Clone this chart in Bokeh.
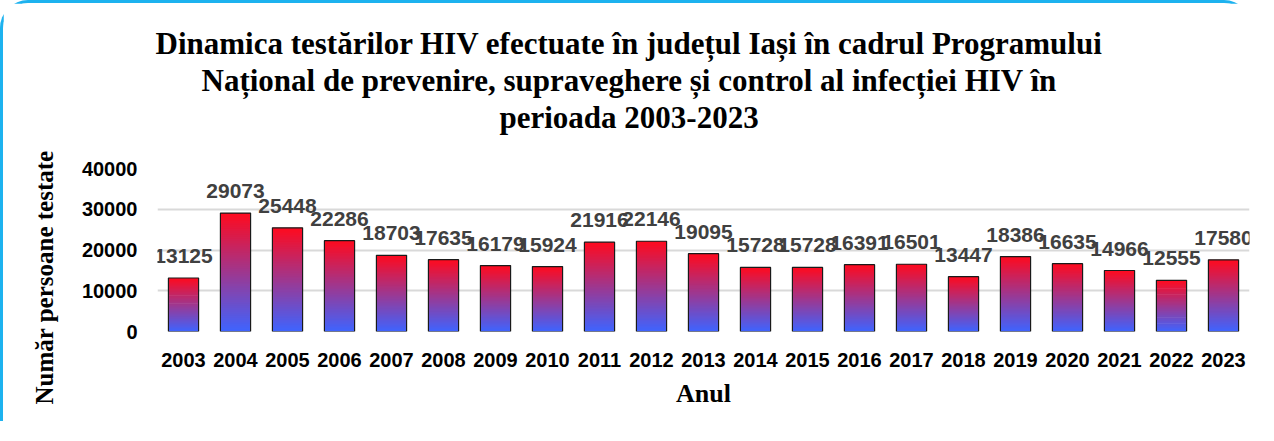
from bokeh.plotting import figure
from bokeh.models import ColumnDataSource, FactorRange, Range1d, FixedTicker, Title
from bokeh.core.properties import value
from bokeh.embed import file_html
from bokeh.resources import INLINE

years = ["2003", "2004", "2005", "2006", "2007", "2008", "2009", "2010", "2011", "2012", "2013",
         "2014", "2015", "2016", "2017", "2018", "2019", "2020", "2021", "2022", "2023"]
tests = [13125, 29073, 25448, 22286, 18703, 17635, 16179, 15924, 21916, 22146, 19095,
         15728, 15728, 16391, 16501, 13447, 18386, 16635, 14966, 12555, 17580]
y_ticks = [0, 10000, 20000, 30000, 40000]
title_lines = ["Dinamica testărilor HIV efectuate în județul Iași în cadrul Programului",
               "Național de prevenire, supraveghere și control al infecției HIV în",
               "perioada 2003-2023"]
x_title = "Anul"
y_title = "Număr persoane testate"

p = figure(x_range=FactorRange(factors=years, range_padding=0), y_range=Range1d(0, 40000),
           width=1252, height=421, output_backend="svg", toolbar_location=None,
           min_border_left=154, min_border_right=6, min_border_top=165, min_border_bottom=93)
p.styles = {"border-top": "3px solid #1DB2EF", "border-left": "3px solid #1DB2EF",
            "border-top-left-radius": "28px", "border-top-right-radius": "28px"}
p.outline_line_color = None
p.background_fill_color = "white"

# gradient bars built from stacked, slightly overlapping slices (blue bottom -> red top)
N = 60
bot_c = (62, 100, 255)
top_c = (255, 10, 30)
xs, bs, ts, cs = [], [], [], []
for k in range(N):
    f = (k + 0.5) / N
    r = round(bot_c[0] + (top_c[0] - bot_c[0]) * f)
    g = round(bot_c[1] + (top_c[1] - bot_c[1]) * f)
    b = round(bot_c[2] + (top_c[2] - bot_c[2]) * f)
    for yr, v in zip(years, tests):
        xs.append(yr)
        bs.append(v * k / N)
        ts.append(v * min(k + 1.8, N) / N)
        cs.append("#%02x%02x%02x" % (r, g, b))
seg = ColumnDataSource(dict(x=xs, bottom=bs, top=ts, color=cs))
p.vbar(x="x", bottom="bottom", top="top", width=0.58, fill_color="color", line_color=None,
       source=seg)

src = ColumnDataSource(dict(x=years, top=tests, lab=[str(v) for v in tests]))
p.vbar(x="x", top="top", width=0.58, fill_color=None, line_color="#1a1a1a", line_width=1.2, source=src)
p.text(x="x", y="top", text="lab", source=src, y_offset=-22, text_align="center",
       text_baseline="alphabetic", text_font=value("Liberation Sans"), text_font_style="bold",
       text_font_size="21px", text_color="#404040")

p.xgrid.grid_line_color = None
p.ygrid.grid_line_color = "#d9d9d9"
p.ygrid.grid_line_width = 2
p.yaxis.ticker = FixedTicker(ticks=y_ticks)

for ax in (p.xaxis[0], p.yaxis[0]):
    ax.axis_line_color = None
    ax.major_tick_line_color = None
    ax.minor_tick_line_color = None
    ax.major_tick_in = 0
    ax.major_tick_out = 0
    ax.major_label_text_font = "Liberation Sans"
    ax.major_label_text_font_style = "bold"
    ax.major_label_text_font_size = "20px"
    ax.major_label_text_color = "black"
p.yaxis.major_label_standoff = 20
p.xaxis.major_label_standoff = 21
p.xaxis.axis_label = x_title
p.xaxis.axis_label_text_font = "Liberation Serif"
p.xaxis.axis_label_text_font_style = "bold"
p.xaxis.axis_label_text_font_size = "26px"
p.xaxis.axis_label_text_color = "black"
p.xaxis.axis_label_standoff = 9

# y-axis title, placed left of the tick labels
p.add_layout(Title(text=y_title, align="left", offset=-73, standoff=42,
                   text_font="Liberation Serif", text_font_style="bold",
                   text_font_size="25px", text_color="black"), "left")

# spacer between plot and title block
p.add_layout(Title(text=" ", standoff=21, text_font_size="10px"), "above")
# title lines, nearest to the plot first
offsets = [-2, 44, 342]
for t, off in reversed(list(zip(title_lines, offsets))):
    p.add_layout(Title(text=t, align="left", offset=off, standoff=0,
                       text_font="Liberation Serif", text_font_style="bold",
                       text_font_size="31px", text_color="black"), "above")

open("out.html", "w").write(file_html(p, INLINE))
